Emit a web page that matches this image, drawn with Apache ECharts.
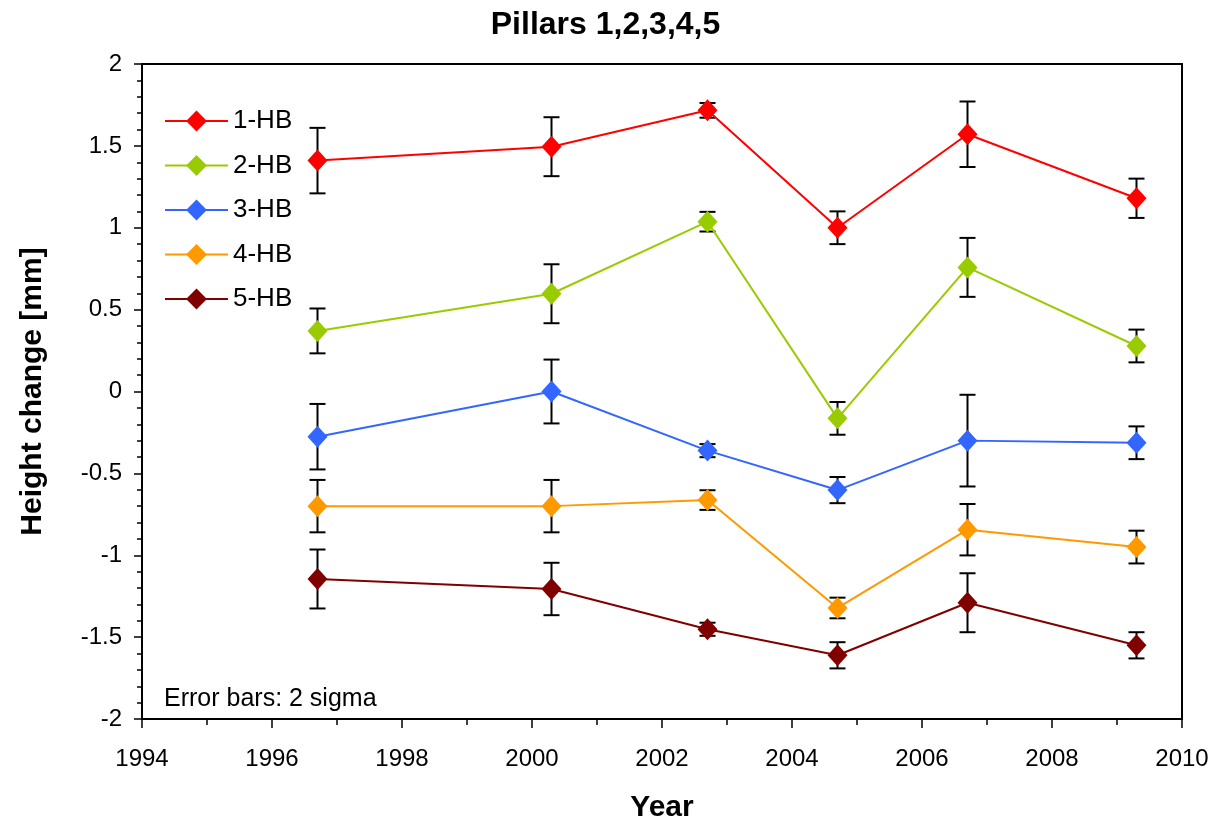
<!DOCTYPE html>
<html>
<head>
<meta charset="utf-8">
<script src="https://cdn.jsdelivr.net/npm/echarts@6/dist/echarts.min.js"></script>
<style>
html,body{margin:0;padding:0;background:#fff;}
#chart{width:1211px;height:820px;}
</style>
</head>
<body>
<div id="chart"></div>
<script>
var years = [1996.7, 2000.3, 2002.7, 2004.7, 2006.7, 2009.3];
var seriesNames = ['1-HB', '2-HB', '3-HB', '4-HB', '5-HB'];
var hb1 = [1.41, 1.495, 1.717, 1.0, 1.571, 1.18];
var hb2 = [0.37, 0.597, 1.037, -0.164, 0.758, 0.278];
var hb3 = [-0.276, 0.0, -0.361, -0.602, -0.300, -0.313];
var hb4 = [-0.70, -0.70, -0.663, -1.322, -0.844, -0.95];
var hb5 = [-1.145, -1.206, -1.452, -1.611, -1.29, -1.55];
var err1 = [0.2, 0.18, 0.045, 0.1, 0.2, 0.12];
var err2 = [0.137, 0.18, 0.06, 0.1, 0.18, 0.1];
var err3 = [0.2, 0.195, 0.04, 0.08, 0.28, 0.1];
var err4 = [0.16, 0.16, 0.06, 0.063, 0.157, 0.1];
var err5 = [0.18, 0.16, 0.04, 0.08, 0.18, 0.08];
var colors = ['#FF0000', '#99CC00', '#3366FF', '#FF9900', '#800000'];
var xTickLabels = ['1994','1996','1998','2000','2002','2004','2006','2008','2010'];

var values = [hb1, hb2, hb3, hb4, hb5];
var errors = [err1, err2, err3, err4, err5];

var chart = echarts.init(document.getElementById('chart'));
var series = [];
values.forEach(function (vals, i) {
  series.push({
    name: seriesNames[i],
    type: 'line',
    data: years.map(function (y, j) { return [y, vals[j]]; }),
    symbol: 'diamond',
    symbolSize: [20, 22],
    itemStyle: { color: colors[i] },
    lineStyle: { color: colors[i], width: 2 },
    z: 3
  });
});
values.forEach(function (vals, i) {
  series.push({
    type: 'custom',
    z: 2,
    silent: true,
    data: years.map(function (y, j) { return [y, vals[j] - errors[i][j], vals[j] + errors[i][j]]; }),
    renderItem: function (params, api) {
      var lo = api.coord([api.value(0), api.value(1)]);
      var hi = api.coord([api.value(0), api.value(2)]);
      var hw = 8;
      var st = { stroke: '#000', lineWidth: 2 };
      return {
        type: 'group',
        children: [
          { type: 'line', shape: { x1: lo[0], y1: lo[1], x2: hi[0], y2: hi[1] }, style: st },
          { type: 'line', shape: { x1: lo[0] - hw, y1: lo[1], x2: lo[0] + hw, y2: lo[1] }, style: st },
          { type: 'line', shape: { x1: hi[0] - hw, y1: hi[1], x2: hi[0] + hw, y2: hi[1] }, style: st }
        ]
      };
    }
  });
});

chart.setOption({
  animation: false,
  backgroundColor: '#fff',
  title: {
    text: 'Pillars 1,2,3,4,5',
    left: 'center',
    top: 4,
    textStyle: { fontFamily: 'Liberation Sans, Arial', fontWeight: 'bold', fontSize: 32, color: '#000' }
  },
  grid: {
    left: 142, right: 29, top: 64, bottom: 101,
    containLabel: false,
    outerBoundsMode: 'none',
    show: true, borderColor: '#000', borderWidth: 2, backgroundColor: '#fff'
  },
  legend: {
    orient: 'vertical',
    left: 164,
    top: 108,
    padding: 0,
    itemWidth: 63,
    itemHeight: 26,
    itemGap: 18.5,
    data: seriesNames,
    textStyle: { fontFamily: 'Liberation Sans, Arial', fontSize: 26, lineHeight: 26, color: '#000' }
  },
  xAxis: {
    type: 'value',
    min: 1994, max: 2010, interval: 2,
    name: 'Year',
    nameLocation: 'middle',
    nameGap: 74,
    nameTextStyle: { fontFamily: 'Liberation Sans, Arial', fontWeight: 'bold', fontSize: 30, color: '#000' },
    axisLine: { show: true, onZero: false, lineStyle: { color: '#000', width: 2 } },
    axisTick: { show: true, length: 9, lineStyle: { color: '#000', width: 1.5 } },
    minorTick: { show: true, splitNumber: 2, length: 6, lineStyle: { color: '#000', width: 1.5 } },
    splitLine: { show: false },
    axisLabel: {
      margin: 28,
      fontFamily: 'Liberation Sans, Arial', fontSize: 24, color: '#000',
      formatter: function (v) { var k = Math.round((v - 1994) / 2); return xTickLabels[k] || ''; }
    }
  },
  yAxis: {
    type: 'value',
    min: -2, max: 2, interval: 0.5,
    name: 'Height change [mm]',
    nameLocation: 'middle',
    nameGap: 94,
    nameTextStyle: { fontFamily: 'Liberation Sans, Arial', fontWeight: 'bold', fontSize: 30, color: '#000' },
    axisLine: { show: true, onZero: false, lineStyle: { color: '#000', width: 2 } },
    axisTick: { show: true, length: 8, lineStyle: { color: '#000', width: 1.5 } },
    minorTick: { show: true, splitNumber: 5, length: 5, lineStyle: { color: '#000', width: 1.5 } },
    splitLine: { show: false },
    axisLabel: { margin: 20, fontFamily: 'Liberation Sans, Arial', fontSize: 24, color: '#000' }
  },
  graphic: [{
    type: 'text',
    left: 164,
    top: 687,
    style: { text: 'Error bars: 2 sigma', fontFamily: 'Liberation Sans, Arial', fontSize: 25, fill: '#000' }
  }],
  series: series
});
</script>
</body>
</html>
